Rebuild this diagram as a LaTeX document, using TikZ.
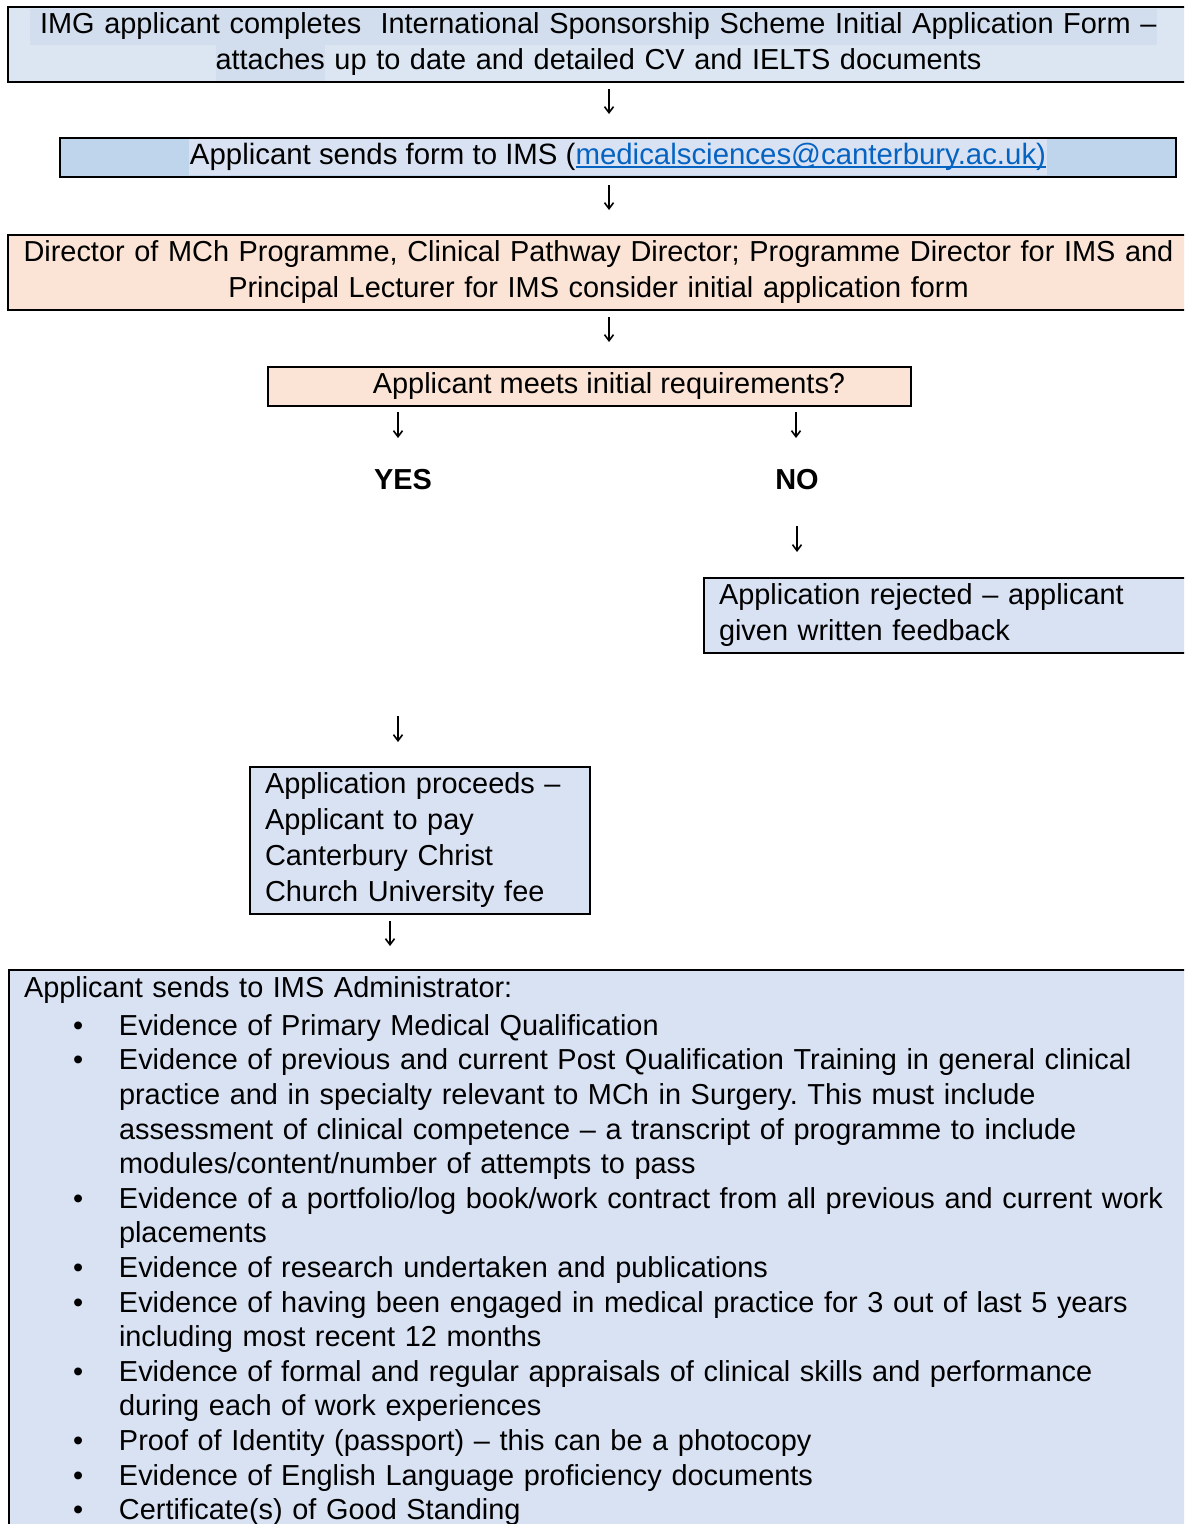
\documentclass[tikz,border=0pt]{standalone}
\usepackage{fontspec}
\setmainfont{Liberation Sans}
\usetikzlibrary{arrows.meta}
\frenchspacing

\definecolor{boxblue}{HTML}{DCE6F2}
\definecolor{hlblue}{HTML}{D2DEEE}
\definecolor{sendblue}{HTML}{BED5EC}
\definecolor{paleblue}{HTML}{D9E2F3}
\definecolor{peach}{HTML}{FBE4D5}
\definecolor{linkblue}{HTML}{0563C1}

\newcommand{\boxfont}{\fontsize{28.9}{36}\selectfont}
\newcommand{\hlbox}[2]{{\setlength{\fboxsep}{0pt}\colorbox{#1}{\strut#2}}}
\newcommand{\linkul}[1]{\setbox0\hbox{#1}\rlap{\rule[-3.5pt]{\wd0}{1.6pt}}\box0}
\newcommand{\bitem}{\hspace*{49pt}\makebox[46pt][l]{•}}
\newcommand{\bcont}{\hspace*{95pt}}

\tikzset{
	box/.style={draw, line width=2pt, inner ysep=1.5pt, font=\boxfont,
		execute at begin node=\strut, execute at end node=\strut},
	yn/.style={font=\boxfont\bfseries},
	flow/.style={line width=1.6pt, -{Straight Barb[length=6pt,width=9pt]}}
}

\begin{document}
\begin{tikzpicture}[x=1pt,y=-1pt]
		\useasboundingbox (0,0) rectangle (1184,1524);
		\clip (0,0) rectangle (1184,1524);

		% the boxes down the middle
			\node[box, fill=boxblue, text width=1177pt, align=center, inner xsep=2pt, anchor=north] (form) at (598.5,6)
				{\hlbox{hlblue}{\ IMG applicant completes\ \ International Sponsorship Scheme Initial Application Form –}\rule{10pt}{0pt}\\
				\hlbox{hlblue}{attaches} up to date and detailed CV and IELTS documents};
			\node[box, fill=sendblue, minimum width=1116pt, minimum height=38pt] (sendbox) at (618,157) {};
			\node[fill=paleblue, inner xsep=1pt, inner ysep=0pt, font=\fontsize{29.4}{36}\selectfont,
				execute at begin node=\strut] (send) at (sendbox.center)
				{Applicant sends form to IMS (\textcolor{linkblue}{\linkul{medicalsciences@canterbury.ac.uk)}}};
			\node[box, fill=peach, text width=1177pt, align=center, inner xsep=2pt, anchor=north] (panel) at (598.5,234)
				{Director of MCh Programme, Clinical Pathway Director; Programme Director for IMS and\\
				Principal Lecturer for IMS consider initial application form};
			\node[box, fill=peach, minimum width=643pt, anchor=north] (req) at (589.5,366)
				{\hspace*{39pt}Applicant meets initial requirements?};

		% yes and no
			\node[yn, anchor=base] (yes) at (403,489) {YES};
			\node[yn, anchor=base] (no) at (797,489) {NO};
			\node[box, fill=paleblue, text width=480pt, align=left, inner xsep=15pt, anchor=north west] (reject) at (703,577)
				{Application rejected – applicant\\ given written feedback};
			\node[box, fill=paleblue, text width=310pt, align=left, inner xsep=15pt, anchor=north west] (proceed) at (249,766)
				{Application proceeds –\\ Applicant to pay\\ Canterbury Christ\\ Church University fee};

		% what the applicant sends
			\node[box, fill=paleblue, text width=1160pt, align=left, inner xsep=15pt, inner ysep=3.5pt, anchor=north west,
				font=\fontsize{28.9}{34.6}\selectfont] (docs) at (8,969)
				{Applicant sends to IMS Administrator:\\[3pt]
				\bitem Evidence of Primary Medical Qualification\\
				\bitem Evidence of previous and current Post Qualification Training in general clinical\\
				\bcont practice and in specialty relevant to MCh in Surgery. This must include\\
				\bcont assessment of clinical competence – a transcript of programme to include\\
				\bcont modules/content/number of attempts to pass\\
				\bitem Evidence of a portfolio/log book/work contract from all previous and current work\\
				\bcont placements\\
				\bitem Evidence of research undertaken and publications\\
				\bitem Evidence of having been engaged in medical practice for 3 out of last 5 years\\
				\bcont including most recent 12 months\\
				\bitem Evidence of formal and regular appraisals of clinical skills and performance\\
				\bcont during each of work experiences\\
				\bitem Proof of Identity (passport) – this can be a photocopy\\
				\bitem Evidence of English Language proficiency documents\\
				\bitem Certificate(s) of Good Standing};

		% the little arrows
			\coordinate (formout) at (609,89);   \coordinate (sendin) at (609,114);
			\coordinate (sendout) at (609,185);  \coordinate (panelin) at (609,210);
			\coordinate (panelout) at (609,317); \coordinate (reqin) at (609,342);
			\coordinate (yestop) at (398,412);   \coordinate (yesbot) at (398,438);
			\coordinate (notop) at (796,412);    \coordinate (nobot) at (796,438);
			\coordinate (noout) at (797,526);    \coordinate (rejectin) at (797,552);
			\coordinate (yesout) at (398,716);   \coordinate (proceedin) at (398,742);
			\coordinate (proceedout) at (390,921); \coordinate (docsin) at (390,946);
			\draw[flow] (formout) -- (sendin);
			\draw[flow] (sendout) -- (panelin);
			\draw[flow] (panelout) -- (reqin);
			\draw[flow] (yestop) -- (yesbot);
			\draw[flow] (notop) -- (nobot);
			\draw[flow] (noout) -- (rejectin);
			\draw[flow] (yesout) -- (proceedin);
			\draw[flow] (proceedout) -- (docsin);
	\end{tikzpicture}
\end{document}
